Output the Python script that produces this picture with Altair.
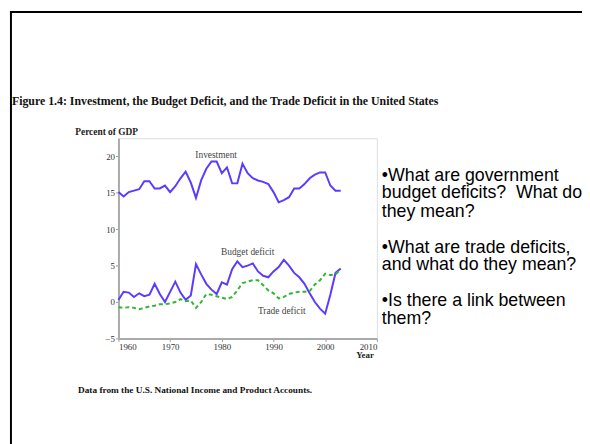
import altair as alt
import pandas as pd

years = list(range(1960, 2004))
investment = [15.1, 14.5, 15.1, 15.3, 15.5, 16.6, 16.6, 15.6, 15.6, 16.0,
              15.1, 15.9, 17.0, 17.9, 16.4, 14.3, 16.7, 18.3, 19.3, 19.3,
              17.7, 18.5, 16.3, 16.3, 19.0, 17.7, 17.0, 16.7, 16.5, 16.2,
              15.1, 13.7, 14.0, 14.4, 15.6, 15.6, 16.2, 17.0, 17.5, 17.8,
              17.8, 16.0, 15.3, 15.3]
budget = [0.3, 1.4, 1.3, 0.7, 1.2, 0.8, 1.0, 2.5, 1.1, 0.0,
          1.4, 2.8, 1.3, 0.3, 0.9, 5.2, 3.8, 2.5, 1.7, 1.1,
          2.7, 2.4, 4.5, 5.6, 4.8, 5.0, 5.3, 4.2, 3.6, 3.4,
          4.2, 4.8, 5.8, 5.0, 4.0, 3.4, 2.5, 1.2, 0.0, -0.9,
          -1.6, 1.0, 4.0, 4.6]
trade = [-0.7, -0.8, -0.7, -0.8, -1.0, -0.8, -0.6, -0.5, -0.3, -0.3,
         -0.2, 0.0, 0.4, 0.1, 0.2, -0.8, 0.0, 1.1, 1.0, 0.8,
         0.6, 0.4, 0.7, 1.6, 2.6, 2.8, 3.0, 3.0, 2.3, 1.6,
         1.2, 0.5, 0.7, 1.1, 1.3, 1.4, 1.4, 1.5, 2.4, 3.0,
         3.9, 3.7, 3.8, 4.5]

label_text = ["Investment", "Budget deficit", "Trade deficit"]
label_x = [1978.9, 1985.0, 1991.6]
label_y = [20.2, 6.9, -1.2]

y_ticks = [-5, 0, 5, 10, 15, 20]
x_ticks = [1960, 1970, 1980, 1990, 2000, 2010]

bullets = ["\u2022What are government", "budget deficits?\u00a0 What do", "they mean?",
           "\u2022What are trade deficits,", "and what do they mean?",
           "\u2022Is there a link between", "them?"]
bullet_dy = [38, 56, 75, 111, 129, 165, 183]

W, H = 262, 203
SERIF = "Liberation Serif"
BLUE = "#5b3bff"
GREEN = "#33b533"

df = pd.DataFrame({"year": years, "inv": investment, "bud": budget, "trd": trade})
lab = pd.DataFrame({"t": label_text, "x": label_x, "y": label_y})

xs = alt.Scale(domain=[1960, 2010], nice=False, zero=False)
ys = alt.Scale(domain=[-5, 22.5], nice=False, zero=False)

xaxis = alt.Axis(values=x_ticks, format="d", title=None, grid=False, domainColor="#aaaaaa",
                 domainWidth=2, tickColor="#999999", tickSize=3, labelFont=SERIF, labelFontSize=9,
                 labelColor="#333333", labelPadding=1)
yaxis = alt.Axis(values=y_ticks, title=None, grid=False, domainColor="#aaaaaa", domainWidth=2,
                 tickColor="#999999", tickSize=3, labelFont=SERIF, labelFontSize=9,
                 labelColor="#333333", labelPadding=1)

base = alt.Chart(df)
inv = base.mark_line(color=BLUE, strokeWidth=2).encode(
    x=alt.X("year:Q", scale=xs, axis=xaxis), y=alt.Y("inv:Q", scale=ys, axis=yaxis))
bud = base.mark_line(color=BLUE, strokeWidth=2).encode(
    x=alt.X("year:Q", scale=xs), y=alt.Y("bud:Q", scale=ys))
trd = base.mark_line(color=GREEN, strokeWidth=2, strokeDash=[4, 3]).encode(
    x=alt.X("year:Q", scale=xs), y=alt.Y("trd:Q", scale=ys))
labels = alt.Chart(lab).mark_text(font=SERIF, fontSize=9.5, color="#444444").encode(
    x=alt.X("x:Q", scale=xs), y=alt.Y("y:Q", scale=ys), text="t:N")

def txt(s, x, y, **kw):
    return alt.Chart(pd.DataFrame({"t": [s]})).mark_text(**kw).encode(
        x=alt.value(x), y=alt.value(y), text="t:N")

title = txt("Figure 1.4: Investment, the Budget Deficit, and the Trade Deficit in the United States",
            -108, -38, font=SERIF, fontSize=12, fontWeight="bold", align="left", color="#111111")
ylab = txt("Percent of GDP", -12, -6, font=SERIF, fontSize=9.5, fontWeight="bold", color="#222222")
xlab = txt("Year", 250, 220, font=SERIF, fontSize=9, fontWeight="bold", color="#222222")
foot = txt("Data from the U.S. National Income and Product Accounts.", -41, 255,
           font=SERIF, fontSize=9.4, fontWeight="bold", align="left", color="#111111")

bul_layers = [txt(s, 267, d, font="Liberation Sans", fontSize=18, align="left", color="#000000")
              for s, d in zip(bullets, bullet_dy)]

border_l = alt.Chart(pd.DataFrame({"a": [0]})).mark_rule(color="black", strokeWidth=2).encode(
    x=alt.value(-109), y=alt.value(-129), y2=alt.value(310))
border_t = alt.Chart(pd.DataFrame({"a": [0]})).mark_rule(color="black", strokeWidth=2).encode(
    x=alt.value(-110), x2=alt.value(475), y=alt.value(-128))

chart = alt.layer(inv, bud, trd, labels, title, ylab, xlab, foot, *bul_layers, border_l, border_t).properties(
    width=W, height=H,
    autosize=alt.AutoSizeParams(type="none"),
    padding={"left": 112, "top": 129, "right": 208, "bottom": 104},
).configure_view(stroke=None).configure(background="white")

chart.save("out.html", embed_options={"renderer": "svg", "actions": False})
